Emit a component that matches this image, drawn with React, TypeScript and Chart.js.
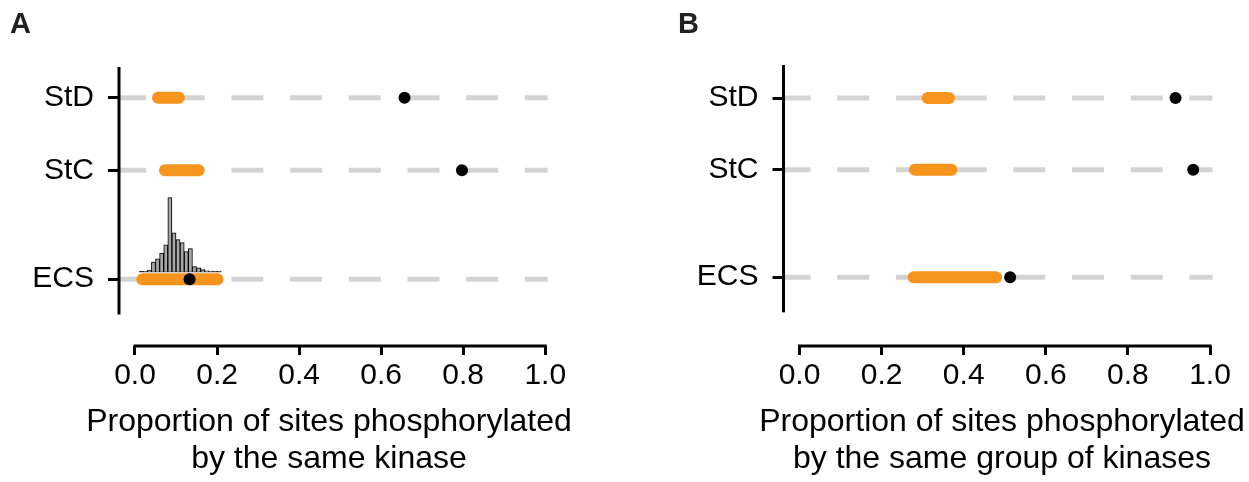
import React, { useEffect, useRef } from 'react';
import { Chart, registerables } from 'chart.js';

Chart.register(...registerables);

// ---------------- data ----------------
const CATEGORIES = ['ECS', 'StC', 'StD'];
const CATEGORY_POS = [1, 2.5, 3.5];
const X_TICKS = [0, 0.2, 0.4, 0.6, 0.8, 1.0];

// Panel A: proportion phosphorylated by the same kinase
const A_RANGE_LOW = [0.018, 0.073, 0.056];
const A_RANGE_HIGH = [0.201, 0.155, 0.107];
const A_OBSERVED = [0.133, 0.797, 0.657];

// Panel B: proportion phosphorylated by the same group of kinases
const B_RANGE_LOW = [0.278, 0.281, 0.312];
const B_RANGE_HIGH = [0.479, 0.37, 0.364];
const B_OBSERVED = [0.513, 0.959, 0.916];

// Null distribution histogram for ECS (panel A), bin width 0.01
const HIST_BIN_CENTERS = [
  0.015, 0.025, 0.035, 0.045, 0.055, 0.065, 0.075, 0.085, 0.095, 0.105,
  0.115, 0.125, 0.135, 0.145, 0.155, 0.165, 0.175, 0.185, 0.195, 0.205,
];
const HIST_PERCENT = [
  0, 0.1, 0.5, 3.2, 4.3, 6.2, 9.0, 24.7, 13.0, 10.7,
  9.7, 6.7, 7.7, 1.7, 1.3, 0.7, 0.3, 0.2, 0.1, 0.1,
];
const HIST_SPAN = [0.01, 0.21];

const A_TITLE = ['Proportion of sites phosphorylated', 'by the same kinase'];
const B_TITLE = ['Proportion of sites phosphorylated', 'by the same group of kinases'];

// ---------------- style / layout ----------------
const FONT = "'Liberation Sans', Arial, Helvetica, sans-serif";
const ORANGE = '#f7941d';
const GRID_GRAY = '#d3d3d3';
const HEIGHT = 482;
const X_MIN = -0.039;
const X_MAX = 1.006;
const CHART_BOTTOM = 346;
const TITLE_BASELINES = [430.7, 468.3];

type PanelSpec = {
  canvasWidth: number;
  left: number;
  yAxisWidth: number;
  chartTop: number;
  rightPad: number;
  yMin: number;
  yMax: number;
  yAxisEnd: number;
  letter: string;
  letterX: number;
  titleX: number;
  title: string[];
  low: number[];
  high: number[];
  obs: number[];
  hist: boolean;
};

const PANELS: PanelSpec[] = [
  {
    canvasWidth: 620, left: 0, yAxisWidth: 119, chartTop: 67, rightPad: 72.3,
    yMin: 0.0786, yMax: 3.924, yAxisEnd: 0.513, letter: 'A', letterX: 10, titleX: 329,
    title: A_TITLE, low: A_RANGE_LOW, high: A_RANGE_HIGH, obs: A_OBSERVED, hist: true,
  },
  {
    canvasWidth: 629, left: 620, yAxisWidth: 163.5, chartTop: 65, rightPad: 36.5,
    yMin: 0.04, yMax: 3.962, yAxisEnd: 0.51, letter: 'B', letterX: 58, titleX: 382,
    title: B_TITLE, low: B_RANGE_LOW, high: B_RANGE_HIGH, obs: B_OBSERVED, hist: false,
  },
];

function buildConfig(p: PanelSpec): any {
  const datasets: any[] = [];

  // dashed gray guide lines
  CATEGORY_POS.forEach((y) => {
    datasets.push({
      type: 'line',
      data: [{ x: X_MIN, y }, { x: X_MAX, y }],
      borderColor: GRID_GRAY,
      borderWidth: 5,
      borderDash: [32, 26.7],
      borderDashOffset: 5,
      borderCapStyle: 'butt',
      pointRadius: 0,
      order: 5,
      clip: false,
    });
  });

  // orange null ranges
  CATEGORY_POS.forEach((y, i) => {
    datasets.push({
      type: 'line',
      data: [{ x: p.low[i], y }, { x: p.high[i], y }],
      borderColor: ORANGE,
      borderWidth: 12,
      borderCapStyle: 'round',
      pointRadius: 0,
      order: 3,
      clip: false,
    });
  });

  // observed values
  datasets.push({
    type: 'scatter',
    data: CATEGORY_POS.map((y, i) => ({ x: p.obs[i], y })),
    backgroundColor: '#000',
    borderWidth: 0,
    pointRadius: 6,
    order: 0,
    clip: false,
  });

  if (p.hist) {
    datasets.push({
      type: 'bar',
      yAxisID: 'y2',
      data: HIST_BIN_CENTERS.map((x, i) => ({ x, y: HIST_PERCENT[i] })),
      backgroundColor: '#a6a6a6',
      borderColor: '#000',
      borderWidth: 1,
      barPercentage: 1,
      categoryPercentage: 1,
      grouped: false,
      order: 1,
    });
    datasets.push({
      type: 'line',
      yAxisID: 'y2',
      data: [{ x: HIST_SPAN[0], y: 0 }, { x: HIST_SPAN[1], y: 0 }],
      borderColor: '#000',
      borderWidth: 1,
      pointRadius: 0,
      order: 1,
    });
  }

  const axesPlugin = {
    id: 'rStyleAxes',
    afterDatasetsDraw(chart: any) {
      const { ctx, chartArea, scales } = chart;
      ctx.save();
      ctx.strokeStyle = '#000';
      ctx.lineWidth = 3;
      ctx.lineCap = 'butt';
      // y axis line
      ctx.beginPath();
      ctx.moveTo(chartArea.left, chartArea.top);
      ctx.lineTo(chartArea.left, scales.y.getPixelForValue(p.yAxisEnd));
      ctx.stroke();
      // x axis line (0 to 1)
      ctx.beginPath();
      ctx.moveTo(scales.x.getPixelForValue(X_TICKS[0]) - 1.5, CHART_BOTTOM);
      ctx.lineTo(scales.x.getPixelForValue(X_TICKS[X_TICKS.length - 1]) + 1.5, CHART_BOTTOM);
      ctx.stroke();
      ctx.restore();
    },
    afterDraw(chart: any) {
      const { ctx } = chart;
      ctx.save();
      ctx.font = `bold 29px ${FONT}`;
      ctx.fillStyle = '#231f20';
      ctx.textBaseline = 'alphabetic';
      ctx.textAlign = 'left';
      ctx.fillText(p.letter, p.letterX, 33.3);
      // axis title
      ctx.font = `32px ${FONT}`;
      ctx.fillStyle = '#000';
      ctx.textAlign = 'center';
      p.title.forEach((line, i) => {
        ctx.fillText(line, p.titleX, TITLE_BASELINES[i]);
      });
      ctx.restore();
    },
  };

  const scales: any = {
    x: {
      type: 'linear',
      position: 'bottom',
      min: X_MIN,
      max: X_MAX,
      bounds: 'data',
      offset: false,
      afterBuildTicks: (s: any) => {
        s.ticks = X_TICKS.map((v) => ({ value: v }));
      },
      afterFit: (s: any) => {
        s.height = HEIGHT - CHART_BOTTOM;
      },
      ticks: {
        autoSkip: false,
        maxRotation: 0,
        minRotation: 0,
        padding: 3,
        color: '#000',
        font: { family: FONT, size: 30 },
        callback: (v: any) => Number(v).toFixed(1),
      },
      grid: {
        offset: false,
        drawOnChartArea: false,
        drawTicks: true,
        tickLength: 9,
        tickWidth: 3,
        tickColor: '#000',
        color: '#000',
      },
      border: { display: false },
      title: { display: false },
    },
    y: {
      type: 'linear',
      position: 'left',
      min: p.yMin,
      max: p.yMax,
      bounds: 'data',
      offset: false,
      afterBuildTicks: (s: any) => {
        s.ticks = CATEGORY_POS.map((v) => ({ value: v }));
      },
      afterFit: (s: any) => {
        s.width = p.yAxisWidth;
      },
      ticks: {
        autoSkip: false,
        padding: 14,
        color: '#000',
        font: { family: FONT, size: 30 },
        callback: (v: any) => {
          const i = CATEGORY_POS.indexOf(Number(v));
          return i >= 0 ? CATEGORIES[i] : '';
        },
      },
      grid: {
        offset: false,
        drawOnChartArea: false,
        drawTicks: true,
        tickLength: 11,
        tickWidth: 3,
        tickColor: '#000',
        color: '#000',
      },
      border: { display: false },
    },
  };

  if (p.hist) {
    scales.y2 = {
      type: 'linear',
      display: false,
      min: -24.8,
      max: 68.32,
      bounds: 'data',
    };
  }

  return {
    type: 'scatter',
    data: { datasets },
    options: {
      responsive: false,
      maintainAspectRatio: false,
      animation: false,
      events: [],
      layout: {
        padding: { left: 0, top: p.chartTop, right: p.rightPad, bottom: 0 },
      },
      plugins: {
        legend: { display: false },
        tooltip: { enabled: false },
        title: { display: false },
      },
      scales,
    },
    plugins: [axesPlugin],
  };
}

function Panel({ spec }: { spec: PanelSpec }) {
  const ref = useRef<HTMLCanvasElement>(null);
  useEffect(() => {
    if (!ref.current) return;
    const chart = new Chart(ref.current, buildConfig(spec));
    return () => chart.destroy();
  }, [spec]);
  return (
    <canvas
      ref={ref}
      width={spec.canvasWidth}
      height={HEIGHT}
      style={{
        position: 'absolute',
        left: spec.left,
        top: 0,
        width: spec.canvasWidth,
        height: HEIGHT,
      }}
    />
  );
}

export default function App() {
  return (
    <div
      style={{
        position: 'absolute',
        left: 0,
        top: 0,
        width: 1249,
        height: HEIGHT,
        background: '#ffffff',
        overflow: 'hidden',
      }}
    >
      {PANELS.map((p) => (
        <Panel key={p.letter} spec={p} />
      ))}
    </div>
  );
}
